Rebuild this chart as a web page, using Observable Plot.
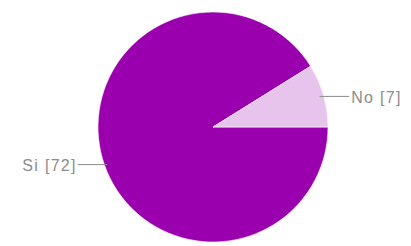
<!DOCTYPE html>
<html><head><meta charset="utf-8">
<script src="https://cdn.jsdelivr.net/npm/d3@7"></script>
<script src="https://cdn.jsdelivr.net/npm/@observablehq/plot@0.6"></script>
<style>html,body{margin:0;padding:0;background:#fff} svg{display:block}</style>
</head><body><div id="chart"></div>
<script>
const categories = ["Si", "No"];
const counts = [72, 7];
const sliceColors = ["#9b00ae", "#e6c4ec"];

const data = categories.map((c, i) => ({category: c, value: counts[i]}));
const arcs = d3.pie().value(d => d.value).sort(null)
  .startAngle(Math.PI / 2).endAngle(Math.PI / 2 + 2 * Math.PI)(data);

const labels = arcs.map(a => {
  const mid = (a.startAngle + a.endAngle) / 2;
  const ux = Math.sin(mid), uy = Math.cos(mid);
  const side = ux >= 0 ? 1 : -1;
  return {
    category: a.data.category,
    text: `${a.data.category} [${a.data.value}]`,
    x1: ux * 0.96, y1: uy, x2: side * 1.18, y2: uy, side
  };
});
const rightLabels = labels.filter(d => d.side > 0);
const leftLabels = labels.filter(d => d.side < 0);

function pieMark(index, scales, values, dimensions) {
  const cx = scales.x(0), cy = scales.y(0), r = scales.x(1) - scales.x(0);
  const color = scales.color || d3.scaleOrdinal(categories, sliceColors);
  const arc = d3.arc().innerRadius(0).outerRadius(r);
  const g = d3.create("svg:g").attr("transform", `translate(${cx},${cy})`);
  g.selectAll("path").data(arcs).join("path")
    .attr("d", arc)
    .attr("fill", d => color(d.data.category))
    .attr("stroke", "#fff").attr("stroke-width", 0.6);
  return g.node();
}

const font = {fontSize: 16, fill: "#8c8c8c", fontFamily: "Liberation Sans, Arial, sans-serif"};
const line = {x1: "x1", y1: "y1", x2: "x2", y2: "y2", stroke: "#8a8a8a", strokeWidth: 1};

const chart = Plot.plot({
  width: 411, height: 246,
  margin: 0,
  x: {domain: [-1, 1], range: [98, 328], axis: null},
  y: {domain: [-1, 1], range: [242, 12], axis: null},
  color: {domain: categories, range: sliceColors},
  style: {background: "#fff"},
  marks: [
    Plot.dot(labels, {x: "x1", y: "y1", fill: "category", r: 0}),
    pieMark,
    Plot.link(rightLabels, {...line, dy: 0.5}),
    Plot.link(leftLabels, {...line, dy: 5.5}),
    Plot.text(rightLabels, {x: "x2", y: "y2", text: "text", textAnchor: "start", dx: 2, dy: 2, ...font}),
    Plot.text(leftLabels, {x: "x2", y: "y2", text: "text", textAnchor: "end", dx: -1, dy: 6.5, ...font})
  ]
});
chart.querySelectorAll("text").forEach(t => t.setAttribute("letter-spacing", "1.3"));
document.getElementById("chart").append(chart);
</script>
</body></html>
